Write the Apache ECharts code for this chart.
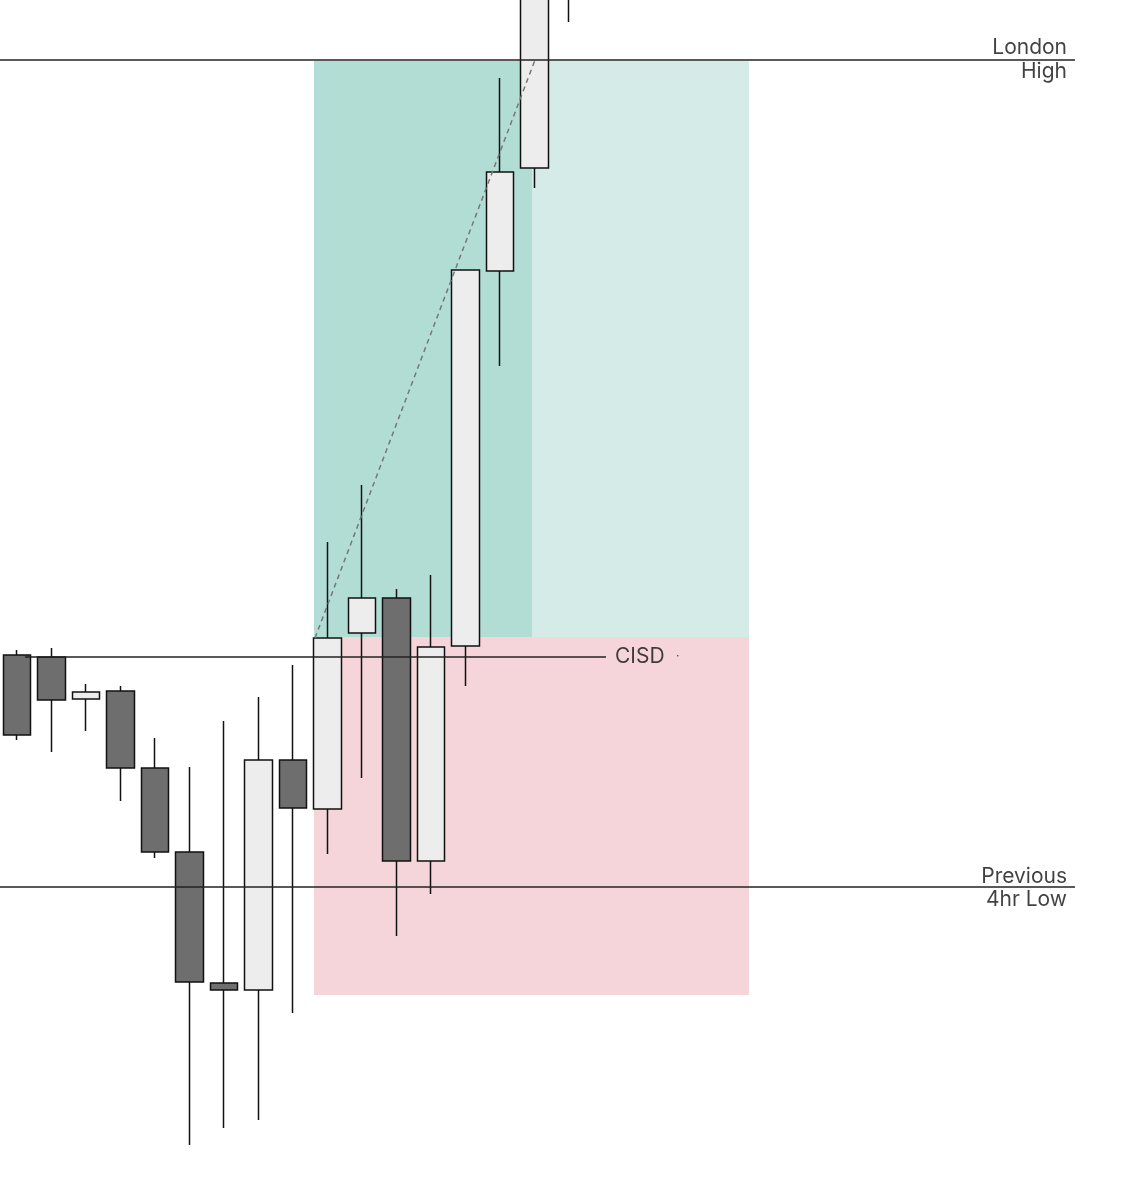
<!DOCTYPE html>
<html><head><meta charset="utf-8">
<script src="https://cdn.jsdelivr.net/npm/echarts@6/dist/echarts.min.js"></script>
<style>html,body{margin:0;padding:0;background:#fff}#c{width:1131px;height:1200px}</style>
</head><body><div id="c"></div>
<script>
// Price scale: value = 1200 - screen row (arbitrary units)
const categories = ['c0','c1','c2','c3','c4','c5','c6','c7','c8','c9','c10','c11','c12','c13','c14','c15','c16'];
// [open, close, low, high]
const candles = [
  [545, 465, 460, 550],
  [543, 500, 448, 552],
  [501, 508, 469, 516],
  [509, 432, 399, 514],
  [432, 348, 342, 462],
  [348, 218, 55, 433],
  [217, 210, 72, 479],
  [210, 440, 80, 503],
  [440, 392, 187, 535],
  [391, 562, 346, 658],
  [567, 602, 422, 715],
  [602, 339, 264, 611],
  [339, 553, 306, 625],
  [554, 930, 514, 930],
  [929, 1028, 834, 1122],
  [1032, 1220, 1012, 1230],
  [1250, 1300, 1178, 1310]
];
const londonHigh = 1140;
const prevLow = 313;
const cisdLevel = 543;
const zoneTop = 1139, zoneMid = 563, zoneBottom = 205;
const zoneLeft = 314, zoneSplit = 532, zoneRight = 749;
const dashedPath = [[315, 562], [535, 1140]];

const chart = echarts.init(document.getElementById('c'));
const font = 'Inter, "Noto Sans", sans-serif';
chart.setOption({
  animation: false,
  grid: [
    {left: -29.1, right: 544.7, top: 0, bottom: 0},
    {left: 0, right: 0, top: 0, bottom: 0}
  ],
  xAxis: [
    {type: 'category', data: categories, gridIndex: 0, show: false, boundaryGap: true},
    {type: 'value', min: 0, max: 1131, gridIndex: 1, show: false}
  ],
  yAxis: [
    {type: 'value', min: 0, max: 1200, gridIndex: 0, show: false},
    {type: 'value', min: 0, max: 1200, gridIndex: 1, show: false}
  ],
  series: [
    {
      type: 'candlestick', xAxisIndex: 0, yAxisIndex: 0, data: candles, barWidth: 28, z: 2,
      itemStyle: {color: '#ededed', color0: '#6e6e6e', borderColor: '#111', borderColor0: '#111', borderWidth: 1.5}
    },
    {
      type: 'line', xAxisIndex: 1, yAxisIndex: 1, z: 5, symbol: 'none', silent: true,
      data: [],
      markArea: {silent: true, data: [
        [{coord: [zoneLeft, zoneTop], itemStyle: {color: 'rgba(0,142,115,0.3)'}}, {coord: [zoneSplit, zoneMid]}],
        [{coord: [zoneSplit, zoneTop], itemStyle: {color: 'rgba(0,137,120,0.17)'}}, {coord: [zoneRight, zoneMid]}],
        [{coord: [zoneLeft, zoneMid], itemStyle: {color: 'rgba(205,45,65,0.2)'}}, {coord: [zoneRight, zoneBottom]}]
      ]}
    },
    {type: 'line', xAxisIndex: 1, yAxisIndex: 1, z: 6, symbol: 'none', data: [[0, londonHigh], [1075, londonHigh]], lineStyle: {color: '#222', width: 1.3}},
    {type: 'line', xAxisIndex: 1, yAxisIndex: 1, z: 6, symbol: 'none', data: [[0, prevLow], [1075, prevLow]], lineStyle: {color: '#222', width: 1.3}},
    {type: 'line', xAxisIndex: 1, yAxisIndex: 1, z: 6, symbol: 'none', data: [[25, cisdLevel], [606, cisdLevel]], lineStyle: {color: '#222', width: 1.3}},
    {type: 'line', xAxisIndex: 1, yAxisIndex: 1, z: 6, symbol: 'none', data: dashedPath, lineStyle: {color: '#777', width: 1.5, type: [5, 4]}},
    {
      type: 'scatter', xAxisIndex: 1, yAxisIndex: 1, z: 7, symbolSize: 0, silent: true,
      data: [
        {value: [1067, 1152], label: {formatter: 'London', align: 'right'}},
        {value: [1067, 1128], label: {formatter: 'High', align: 'right'}},
        {value: [1067, 323], label: {formatter: 'Previous', align: 'right'}},
        {value: [1067, 300], label: {formatter: '4hr Low', align: 'right'}},
        {value: [615, 543], label: {formatter: 'CISD', align: 'left'}},
        {value: [676, 544], label: {formatter: '·', align: 'left', fontSize: 12}}
      ],
      label: {show: true, position: 'inside', color: '#111', fontSize: 21, fontFamily: font, verticalAlign: 'middle'}
    }
  ]
});
</script></body></html>
